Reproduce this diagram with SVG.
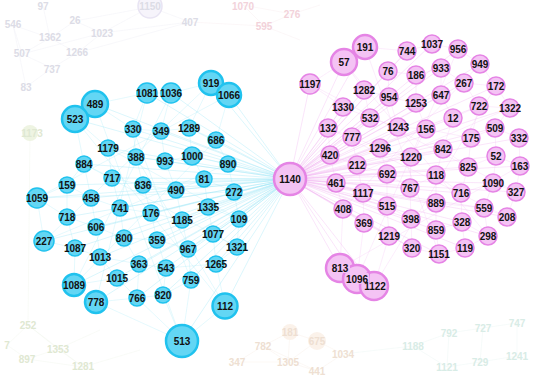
<svg xmlns="http://www.w3.org/2000/svg" width="550" height="381" viewBox="0 0 550 381">
<style>
.lb{font-family:"Liberation Sans",Arial,sans-serif;font-weight:bold;font-size:10px;text-anchor:middle;fill:#111}
.b circle{fill:#63d6f4;stroke:#20c2ee;stroke-width:1.5}
.p circle{fill:#f4c3f4;stroke:#e584e5;stroke-width:1.5}
.big circle{stroke-width:2.5}
.f text{font-family:"Liberation Sans",Arial,sans-serif;font-weight:bold;font-size:10px;text-anchor:middle}
.fl text{fill:#dcdce6}.fp text{fill:#f2d2da}.fo text{fill:#eedfd2}.fm text{fill:#d8ece6}.fg text{fill:#dfe8d2}
.eb{stroke:#8fe2f6;stroke-width:0.6;fill:none;opacity:0.55}
.ep{stroke:#f0aef0;stroke-width:0.6;fill:none;opacity:0.55}
.mb{stroke:#9fe8f8;stroke-width:0.5;fill:none;opacity:0.55}
.mp{stroke:#f3bdf3;stroke-width:0.5;fill:none;opacity:0.55}
.fe{stroke-width:0.5;fill:none;opacity:0.4}
</style>
<defs>
<mask id="m1096" maskUnits="userSpaceOnUse" x="0" y="0" width="550" height="381">
<rect width="550" height="381" fill="#fff"/>
<rect x="331" y="262" width="19" height="11" fill="#000"/>
</mask>
<mask id="m1122" maskUnits="userSpaceOnUse" x="0" y="0" width="550" height="381">
<rect width="550" height="381" fill="#fff"/>
<rect x="345" y="273" width="25" height="11" fill="#000"/>
</mask>
</defs>
<rect width="550" height="381" fill="#ffffff"/>
<!-- faint background nodes -->
<g id="faint">
<path class="fe" stroke="#dcdcec" d="M13 25L50 38L75 21L102 33L77 53L52 68L22 54L13 25M50 38L77 53M22 54L50 38M102 33L150 7M75 21L150 7M43 6L50 38M52 68L26 87M13 25L26 87M102 33L190 22M77 53L190 22M150 7L190 22M22 54L102 33"/>
<path class="fe" stroke="#f2d6dc" d="M243 5L264 26L292 14L243 5M190 22L264 26M264 26L300 40M292 14L320 5"/>
<path class="fe" stroke="#e2ecd6" d="M28 325L58 349L27 359L83 367L58 349M28 325L83 367M7 345L28 325M7 345L27 359M28 325L30 133M58 349L100 330M83 367L140 350"/>
<path class="fe" stroke="#d0ece4" d="M413 346L449 333L483 328L517 323M449 333L447 367L480 362L517 356L517 323M413 346L447 367M483 328L480 362M343 354L413 346"/>
<path class="fe" stroke="#f0dccb" d="M237 362L263 346L290 332L317 341L343 354L317 371L288 362L263 346M288 362L317 341M290 332L288 362M237 362L288 362M263 346L317 371"/>
<g class="f fl">
<circle cx="150" cy="6" r="12" fill="#f6f4fb" stroke="#e8e4f3" stroke-width="1.5"/>
<text x="150" y="10">1150</text>
<text x="43" y="10">97</text>
<text x="13" y="28">546</text>
<text x="75" y="24">26</text>
<text x="50" y="41">1362</text>
<text x="102" y="37">1023</text>
<text x="22" y="57">507</text>
<text x="77" y="56">1266</text>
<text x="52" y="73">737</text>
<text x="26" y="91">83</text>
<text x="190" y="26">407</text>
</g>
<g class="f fp">
<text x="243" y="10">1070</text>
<text x="264" y="30">595</text>
<text x="292" y="18">276</text>
</g>
<g class="f fg">
<circle cx="30" cy="133" r="8" fill="#eef4e2"/>
<text x="32" y="137">1173</text>
<text x="28" y="329">252</text>
<text x="58" y="353">1353</text>
<text x="27" y="363">897</text>
<text x="83" y="370">1281</text>
<text x="7" y="349">7</text>
</g>
<g class="f fo">
<circle cx="317" cy="341" r="9" fill="#fbf2ea"/>
<circle cx="290" cy="332" r="8" fill="#fbf2ea"/>
<text x="290" y="336">181</text>
<text x="263" y="350">782</text>
<text x="317" y="345">675</text>
<text x="237" y="366">347</text>
<text x="288" y="366">1305</text>
<text x="343" y="358">1034</text>
<text x="317" y="375">441</text>
</g>
<g class="f fm">
<text x="413" y="350">1188</text>
<text x="449" y="337">792</text>
<text x="483" y="332">727</text>
<text x="517" y="327">747</text>
<text x="447" y="371">1121</text>
<text x="480" y="366">729</text>
<text x="517" y="360">1241</text>
</g>
</g>
<g id="connectors">
<path class="mb" d="M95 104L75 119M95 104L147 93M75 119L108 148M95 104L133 129M147 93L171 93M171 93L211 83M211 83L229 95M133 129L161 131M161 131L189 128M189 128L216 140M108 148L136 157M136 157L165 161M165 161L192 156M192 156L228 164M84 164L112 178M112 178L143 185M143 185L176 190M176 190L204 179M204 179L234 192M67 185L91 198M91 198L120 208M120 208L151 213M151 213L182 220M182 220L208 207M208 207L239 219M37 198L67 217M67 217L96 227M96 227L124 238M124 238L157 240M157 240L188 249M188 249L213 234M213 234L237 247M44 241L75 248M75 248L100 257M100 257L139 264M139 264L166 268M166 268L216 264M74 285L117 278M117 278L137 298M137 298L163 295M163 295L191 280M96 302L182 341M182 341L225 306M74 285L96 302M133 129L136 157M136 157L143 185M143 185L151 213M151 213L157 240M157 240L166 268M166 268L163 295M161 131L165 161M165 161L176 190M176 190L182 220M182 220L188 249M188 249L191 280M189 128L192 156M192 156L204 179M204 179L208 207M208 207L213 234M213 234L216 264M108 148L112 178M112 178L120 208M120 208L124 238M124 238L139 264M139 264L137 298M84 164L91 198M91 198L96 227M96 227L100 257M100 257L117 278M67 185L67 217M67 217L75 248M75 248L74 285M37 198L44 241M216 140L228 164M228 164L234 192M234 192L239 219M239 219L237 247M237 247L216 264M216 264L225 306M191 280L182 341M163 295L182 341M137 298L182 341M96 302L137 298M75 119L84 164M84 164L67 185M67 185L37 198M229 95L216 140M171 93L161 131M147 93L133 129M211 83L189 128M95 104L182 341M75 119L225 306M37 198L229 95M44 241L211 83M74 285L171 93M96 302L147 93M108 148L239 219M84 164L237 247M136 157L225 306M133 129L191 280M228 164L44 241M234 192L37 198M216 140L74 285"/>
<path class="mp" d="M365 47L344 62M365 47L407 51M407 51L432 44M432 44L458 49M458 49L480 64M344 62L310 84M344 62L364 90M388 71L416 75M416 75L441 68M441 68L464 83M464 83L496 86M364 90L389 97M389 97L416 103M416 103L441 95M441 95L453 118M453 118L479 106M479 106L510 108M343 107L370 118M370 118L398 127M398 127L426 129M426 129L471 138M471 138L495 128M495 128L519 138M328 128L352 137M352 137L380 148M380 148L411 157M411 157L443 149M443 149L468 167M468 167L496 156M496 156L520 166M330 155L357 165M357 165L387 174M387 174L410 188M410 188L436 175M436 175L461 193M461 193L493 183M493 183L516 192M336 183L363 193M363 193L387 206M387 206L411 219M411 219L436 203M436 203L484 208M484 208L507 217M343 209L364 223M364 223L389 236M389 236L412 248M412 248L439 254M439 254L465 248M465 248L488 236M436 230L462 222M462 222L488 236M340 268L357 279M357 279L374 286M310 84L343 107M343 107L328 128M328 128L330 155M330 155L336 183M336 183L343 209M343 209L340 268M364 90L370 118M370 118L352 137M352 137L357 165M357 165L363 193M363 193L364 223M364 223L357 279M389 97L398 127M398 127L380 148M380 148L387 174M387 174L387 206M387 206L389 236M389 236L374 286M416 103L426 129M426 129L411 157M411 157L410 188M410 188L411 219M411 219L412 248M453 118L443 149M443 149L436 175M436 175L436 203M436 203L436 230M436 230L439 254M479 106L471 138M471 138L468 167M468 167L461 193M461 193L462 222M462 222L465 248M510 108L495 128M495 128L496 156M496 156L493 183M493 183L484 208M484 208L488 236M519 138L520 166M520 166L516 192M516 192L507 217M496 86L510 108M480 64L496 86M388 71L389 97M407 51L388 71M416 75L416 103M441 68L441 95M464 83L479 106M340 268L520 166M374 286L496 86M357 279L458 49M310 84L516 192M344 62L488 236M365 47L439 254M328 128L507 217M336 183L510 108M343 209L480 64"/>
<path class="eb" d="M290 179L95 104M290 179L75 119M290 179L147 93M290 179L171 93M290 179L211 83M290 179L229 95M290 179L133 129M290 179L161 131M290 179L189 128M290 179L216 140M290 179L108 148M290 179L136 157M290 179L165 161M290 179L192 156M290 179L228 164M290 179L84 164M290 179L112 178M290 179L143 185M290 179L204 179M290 179L176 190M290 179L234 192M290 179L67 185M290 179L37 198M290 179L91 198M290 179L120 208M290 179L151 213M290 179L208 207M290 179L182 220M290 179L239 219M290 179L67 217M290 179L96 227M290 179L124 238M290 179L157 240M290 179L213 234M290 179L188 249M290 179L237 247M290 179L44 241M290 179L75 248M290 179L100 257M290 179L139 264M290 179L166 268M290 179L216 264M290 179L191 280M290 179L117 278M290 179L74 285M290 179L96 302M290 179L137 298M290 179L163 295M290 179L225 306M290 179L182 341"/>
<path class="ep" d="M290 179L365 47M290 179L344 62M290 179L310 84M290 179L407 51M290 179L432 44M290 179L458 49M290 179L388 71M290 179L416 75M290 179L441 68M290 179L480 64M290 179L364 90M290 179L389 97M290 179L441 95M290 179L464 83M290 179L496 86M290 179L343 107M290 179L370 118M290 179L416 103M290 179L453 118M290 179L479 106M290 179L510 108M290 179L328 128M290 179L352 137M290 179L398 127M290 179L426 129M290 179L471 138M290 179L495 128M290 179L519 138M290 179L330 155M290 179L380 148M290 179L443 149M290 179L411 157M290 179L468 167M290 179L496 156M290 179L520 166M290 179L357 165M290 179L436 175M290 179L336 183M290 179L387 174M290 179L410 188M290 179L461 193M290 179L493 183M290 179L516 192M290 179L363 193M290 179L436 203M290 179L343 209M290 179L387 206M290 179L484 208M290 179L507 217M290 179L364 223M290 179L411 219M290 179L436 230M290 179L462 222M290 179L488 236M290 179L389 236M290 179L412 248M290 179L439 254M290 179L465 248M290 179L340 268M290 179L357 279M290 179L374 286"/>
</g>
<g id="nodes-blue">
<g id="n489" class="b big"><circle cx="95" cy="104" r="13"/><text class="lb" x="95" y="107.5">489</text></g>
<g id="n523" class="b big"><circle cx="75" cy="119" r="13"/><text class="lb" x="75" y="122.5">523</text></g>
<g id="n1081" class="b"><circle cx="147" cy="93" r="10"/><text class="lb" x="147" y="96.5">1081</text></g>
<g id="n1036" class="b"><circle cx="171" cy="93" r="10"/><text class="lb" x="171" y="96.5">1036</text></g>
<g id="n919" class="b big"><circle cx="211" cy="83" r="12"/><text class="lb" x="211" y="86.5">919</text></g>
<g id="n1066" class="b big"><circle cx="229" cy="95" r="12"/><text class="lb" x="229" y="98.5">1066</text></g>
<g id="n330" class="b"><circle cx="133" cy="129" r="8"/><text class="lb" x="133" y="132.5">330</text></g>
<g id="n349" class="b"><circle cx="161" cy="131" r="8"/><text class="lb" x="161" y="134.5">349</text></g>
<g id="n1289" class="b"><circle cx="189" cy="128" r="8"/><text class="lb" x="189" y="131.5">1289</text></g>
<g id="n686" class="b"><circle cx="216" cy="140" r="8"/><text class="lb" x="216" y="143.5">686</text></g>
<g id="n1179" class="b"><circle cx="108" cy="148" r="8"/><text class="lb" x="108" y="151.5">1179</text></g>
<g id="n388" class="b"><circle cx="136" cy="157" r="8"/><text class="lb" x="136" y="160.5">388</text></g>
<g id="n993" class="b"><circle cx="165" cy="161" r="8"/><text class="lb" x="165" y="164.5">993</text></g>
<g id="n1000" class="b"><circle cx="192" cy="156" r="9"/><text class="lb" x="192" y="159.5">1000</text></g>
<g id="n890" class="b"><circle cx="228" cy="164" r="8"/><text class="lb" x="228" y="167.5">890</text></g>
<g id="n884" class="b"><circle cx="84" cy="164" r="8"/><text class="lb" x="84" y="167.5">884</text></g>
<g id="n717" class="b"><circle cx="112" cy="178" r="8"/><text class="lb" x="112" y="181.5">717</text></g>
<g id="n836" class="b"><circle cx="143" cy="185" r="8"/><text class="lb" x="143" y="188.5">836</text></g>
<g id="n81" class="b"><circle cx="204" cy="179" r="8"/><text class="lb" x="204" y="182.5">81</text></g>
<g id="n490" class="b"><circle cx="176" cy="190" r="8"/><text class="lb" x="176" y="193.5">490</text></g>
<g id="n272" class="b"><circle cx="234" cy="192" r="8"/><text class="lb" x="234" y="195.5">272</text></g>
<g id="n159" class="b"><circle cx="67" cy="185" r="8"/><text class="lb" x="67" y="188.5">159</text></g>
<g id="n1059" class="b"><circle cx="37" cy="198" r="10"/><text class="lb" x="37" y="201.5">1059</text></g>
<g id="n458" class="b"><circle cx="91" cy="198" r="8"/><text class="lb" x="91" y="201.5">458</text></g>
<g id="n741" class="b"><circle cx="120" cy="208" r="8"/><text class="lb" x="120" y="211.5">741</text></g>
<g id="n176" class="b"><circle cx="151" cy="213" r="8"/><text class="lb" x="151" y="216.5">176</text></g>
<g id="n1335" class="b"><circle cx="208" cy="207" r="8"/><text class="lb" x="208" y="210.5">1335</text></g>
<g id="n1185" class="b"><circle cx="182" cy="220" r="8"/><text class="lb" x="182" y="223.5">1185</text></g>
<g id="n109" class="b"><circle cx="239" cy="219" r="8"/><text class="lb" x="239" y="222.5">109</text></g>
<g id="n718" class="b"><circle cx="67" cy="217" r="8"/><text class="lb" x="67" y="220.5">718</text></g>
<g id="n606" class="b"><circle cx="96" cy="227" r="8"/><text class="lb" x="96" y="230.5">606</text></g>
<g id="n800" class="b"><circle cx="124" cy="238" r="8"/><text class="lb" x="124" y="241.5">800</text></g>
<g id="n359" class="b"><circle cx="157" cy="240" r="8"/><text class="lb" x="157" y="243.5">359</text></g>
<g id="n1077" class="b"><circle cx="213" cy="234" r="8"/><text class="lb" x="213" y="237.5">1077</text></g>
<g id="n967" class="b"><circle cx="188" cy="249" r="8"/><text class="lb" x="188" y="252.5">967</text></g>
<g id="n1321" class="b"><circle cx="237" cy="247" r="8"/><text class="lb" x="237" y="250.5">1321</text></g>
<g id="n227" class="b"><circle cx="44" cy="241" r="10"/><text class="lb" x="44" y="244.5">227</text></g>
<g id="n1087" class="b"><circle cx="75" cy="248" r="8"/><text class="lb" x="75" y="251.5">1087</text></g>
<g id="n1013" class="b"><circle cx="100" cy="257" r="8"/><text class="lb" x="100" y="260.5">1013</text></g>
<g id="n363" class="b"><circle cx="139" cy="264" r="8"/><text class="lb" x="139" y="267.5">363</text></g>
<g id="n543" class="b"><circle cx="166" cy="268" r="8"/><text class="lb" x="166" y="271.5">543</text></g>
<g id="n1265" class="b"><circle cx="216" cy="264" r="8"/><text class="lb" x="216" y="267.5">1265</text></g>
<g id="n759" class="b"><circle cx="191" cy="280" r="8"/><text class="lb" x="191" y="283.5">759</text></g>
<g id="n1015" class="b"><circle cx="117" cy="278" r="8"/><text class="lb" x="117" y="281.5">1015</text></g>
<g id="n1089" class="b big"><circle cx="74" cy="285" r="11"/><text class="lb" x="74" y="288.5">1089</text></g>
<g id="n778" class="b big"><circle cx="96" cy="302" r="11"/><text class="lb" x="96" y="305.5">778</text></g>
<g id="n766" class="b"><circle cx="137" cy="298" r="8"/><text class="lb" x="137" y="301.5">766</text></g>
<g id="n820" class="b"><circle cx="163" cy="295" r="8"/><text class="lb" x="163" y="298.5">820</text></g>
<g id="n112" class="b big"><circle cx="225" cy="306" r="12.5"/><text class="lb" x="225" y="309.5">112</text></g>
<g id="n513" class="b big"><circle cx="182" cy="341" r="16"/><text class="lb" x="182" y="344.5">513</text></g>
</g>
<g id="nodes-pink">
<g id="n1140" class="p big"><circle cx="290" cy="179" r="16"/><text class="lb" x="290" y="182.5">1140</text></g>
<g id="n191" class="p big"><circle cx="365" cy="47" r="12"/><text class="lb" x="365" y="50.5">191</text></g>
<g id="n57" class="p big"><circle cx="344" cy="62" r="13"/><text class="lb" x="344" y="65.5">57</text></g>
<g id="n1197" class="p"><circle cx="310" cy="84" r="10"/><text class="lb" x="310" y="87.5">1197</text></g>
<g id="n744" class="p"><circle cx="407" cy="51" r="9"/><text class="lb" x="407" y="54.5">744</text></g>
<g id="n1037" class="p"><circle cx="432" cy="44" r="9"/><text class="lb" x="432" y="47.5">1037</text></g>
<g id="n956" class="p"><circle cx="458" cy="49" r="9"/><text class="lb" x="458" y="52.5">956</text></g>
<g id="n76" class="p"><circle cx="388" cy="71" r="9"/><text class="lb" x="388" y="74.5">76</text></g>
<g id="n186" class="p"><circle cx="416" cy="75" r="9"/><text class="lb" x="416" y="78.5">186</text></g>
<g id="n933" class="p"><circle cx="441" cy="68" r="9"/><text class="lb" x="441" y="71.5">933</text></g>
<g id="n949" class="p"><circle cx="480" cy="64" r="9"/><text class="lb" x="480" y="67.5">949</text></g>
<g id="n1282" class="p"><circle cx="364" cy="90" r="9"/><text class="lb" x="364" y="93.5">1282</text></g>
<g id="n954" class="p"><circle cx="389" cy="97" r="9"/><text class="lb" x="389" y="100.5">954</text></g>
<g id="n647" class="p"><circle cx="441" cy="95" r="9"/><text class="lb" x="441" y="98.5">647</text></g>
<g id="n267" class="p"><circle cx="464" cy="83" r="9"/><text class="lb" x="464" y="86.5">267</text></g>
<g id="n172" class="p"><circle cx="496" cy="86" r="9"/><text class="lb" x="496" y="89.5">172</text></g>
<g id="n1330" class="p"><circle cx="343" cy="107" r="9"/><text class="lb" x="343" y="110.5">1330</text></g>
<g id="n532" class="p"><circle cx="370" cy="118" r="9"/><text class="lb" x="370" y="121.5">532</text></g>
<g id="n1253" class="p"><circle cx="416" cy="103" r="9"/><text class="lb" x="416" y="106.5">1253</text></g>
<g id="n12" class="p"><circle cx="453" cy="118" r="9"/><text class="lb" x="453" y="121.5">12</text></g>
<g id="n722" class="p"><circle cx="479" cy="106" r="9"/><text class="lb" x="479" y="109.5">722</text></g>
<g id="n1322" class="p"><circle cx="510" cy="108" r="9"/><text class="lb" x="510" y="111.5">1322</text></g>
<g id="n132" class="p"><circle cx="328" cy="128" r="9"/><text class="lb" x="328" y="131.5">132</text></g>
<g id="n777" class="p"><circle cx="352" cy="137" r="9"/><text class="lb" x="352" y="140.5">777</text></g>
<g id="n1243" class="p"><circle cx="398" cy="127" r="9"/><text class="lb" x="398" y="130.5">1243</text></g>
<g id="n156" class="p"><circle cx="426" cy="129" r="9"/><text class="lb" x="426" y="132.5">156</text></g>
<g id="n175" class="p"><circle cx="471" cy="138" r="9"/><text class="lb" x="471" y="141.5">175</text></g>
<g id="n509" class="p"><circle cx="495" cy="128" r="9"/><text class="lb" x="495" y="131.5">509</text></g>
<g id="n332" class="p"><circle cx="519" cy="138" r="9"/><text class="lb" x="519" y="141.5">332</text></g>
<g id="n420" class="p"><circle cx="330" cy="155" r="9"/><text class="lb" x="330" y="158.5">420</text></g>
<g id="n1296" class="p"><circle cx="380" cy="148" r="9"/><text class="lb" x="380" y="151.5">1296</text></g>
<g id="n842" class="p"><circle cx="443" cy="149" r="9"/><text class="lb" x="443" y="152.5">842</text></g>
<g id="n1220" class="p"><circle cx="411" cy="157" r="9"/><text class="lb" x="411" y="160.5">1220</text></g>
<g id="n825" class="p"><circle cx="468" cy="167" r="9"/><text class="lb" x="468" y="170.5">825</text></g>
<g id="n52" class="p"><circle cx="496" cy="156" r="9"/><text class="lb" x="496" y="159.5">52</text></g>
<g id="n163" class="p"><circle cx="520" cy="166" r="9"/><text class="lb" x="520" y="169.5">163</text></g>
<g id="n212" class="p"><circle cx="357" cy="165" r="9"/><text class="lb" x="357" y="168.5">212</text></g>
<g id="n118" class="p"><circle cx="436" cy="175" r="9"/><text class="lb" x="436" y="178.5">118</text></g>
<g id="n461" class="p"><circle cx="336" cy="183" r="9"/><text class="lb" x="336" y="186.5">461</text></g>
<g id="n692" class="p"><circle cx="387" cy="174" r="9"/><text class="lb" x="387" y="177.5">692</text></g>
<g id="n767" class="p"><circle cx="410" cy="188" r="9"/><text class="lb" x="410" y="191.5">767</text></g>
<g id="n716" class="p"><circle cx="461" cy="193" r="9"/><text class="lb" x="461" y="196.5">716</text></g>
<g id="n1090" class="p"><circle cx="493" cy="183" r="9"/><text class="lb" x="493" y="186.5">1090</text></g>
<g id="n327" class="p"><circle cx="516" cy="192" r="9"/><text class="lb" x="516" y="195.5">327</text></g>
<g id="n1117" class="p"><circle cx="363" cy="193" r="9"/><text class="lb" x="363" y="196.5">1117</text></g>
<g id="n889" class="p"><circle cx="436" cy="203" r="9"/><text class="lb" x="436" y="206.5">889</text></g>
<g id="n408" class="p"><circle cx="343" cy="209" r="9"/><text class="lb" x="343" y="212.5">408</text></g>
<g id="n515" class="p"><circle cx="387" cy="206" r="9"/><text class="lb" x="387" y="209.5">515</text></g>
<g id="n559" class="p"><circle cx="484" cy="208" r="9"/><text class="lb" x="484" y="211.5">559</text></g>
<g id="n208" class="p"><circle cx="507" cy="217" r="9"/><text class="lb" x="507" y="220.5">208</text></g>
<g id="n369" class="p"><circle cx="364" cy="223" r="9"/><text class="lb" x="364" y="226.5">369</text></g>
<g id="n398" class="p"><circle cx="411" cy="219" r="9"/><text class="lb" x="411" y="222.5">398</text></g>
<g id="n859" class="p"><circle cx="436" cy="230" r="9"/><text class="lb" x="436" y="233.5">859</text></g>
<g id="n328" class="p"><circle cx="462" cy="222" r="9"/><text class="lb" x="462" y="225.5">328</text></g>
<g id="n298" class="p"><circle cx="488" cy="236" r="9"/><text class="lb" x="488" y="239.5">298</text></g>
<g id="n1219" class="p"><circle cx="389" cy="236" r="9"/><text class="lb" x="389" y="239.5">1219</text></g>
<g id="n320" class="p"><circle cx="412" cy="248" r="9"/><text class="lb" x="412" y="251.5">320</text></g>
<g id="n1151" class="p"><circle cx="439" cy="254" r="9"/><text class="lb" x="439" y="257.5">1151</text></g>
<g id="n119" class="p"><circle cx="465" cy="248" r="9"/><text class="lb" x="465" y="251.5">119</text></g>
<g id="n813" class="p big"><circle cx="340" cy="268" r="14"/><text class="lb" x="340" y="271.5">813</text></g>
<g id="n1096" class="p big"><circle cx="357" cy="279" r="14" mask="url(#m1096)"/><text class="lb" x="357" y="282.5">1096</text></g>
<g id="n1122" class="p big"><circle cx="374" cy="286" r="14" mask="url(#m1122)"/><text class="lb" x="375" y="290">1122</text></g>
</g>
</svg>
